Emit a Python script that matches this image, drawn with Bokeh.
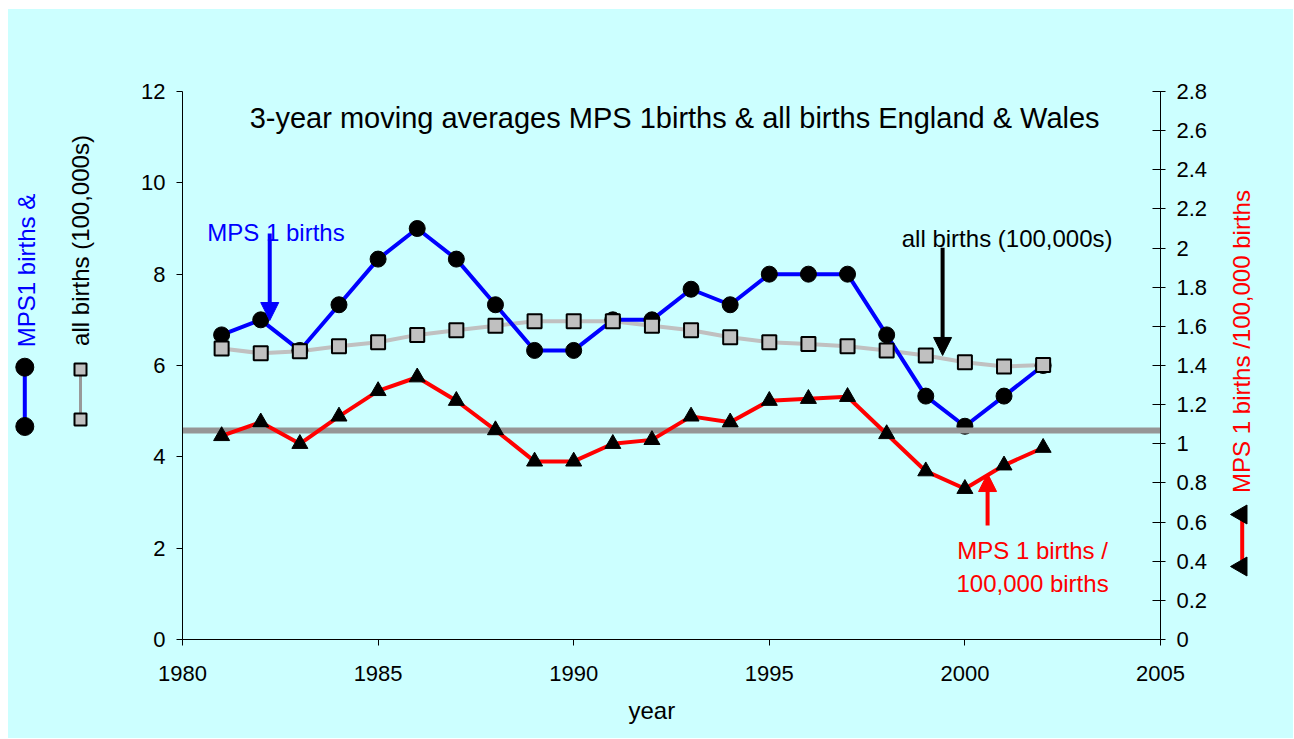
import math
from bokeh.plotting import figure
from bokeh.models import (Range1d, LinearAxis, FixedTicker, NumeralTickFormatter,
                          Label, Arrow, NormalHead, Title)
from bokeh.layouts import row
from bokeh.core.properties import value
from bokeh.embed import file_html
from bokeh.resources import INLINE

# ---------------- data ----------------
years = [1981, 1982, 1983, 1984, 1985, 1986, 1987, 1988, 1989, 1990, 1991,
         1992, 1993, 1994, 1995, 1996, 1997, 1998, 1999, 2000, 2001, 2002]
mps1_births = [6.67, 7.0, 6.33, 7.33, 8.33, 9.0, 8.33, 7.33, 6.33, 6.33, 7.0,
               7.0, 7.67, 7.33, 8.0, 8.0, 8.0, 6.67, 5.33, 4.67, 5.33, 6.0]
all_births = [6.37, 6.27, 6.31, 6.42, 6.51, 6.67, 6.77, 6.87, 6.97, 6.97, 6.97,
              6.87, 6.77, 6.62, 6.51, 6.47, 6.42, 6.33, 6.22, 6.07, 5.98, 6.01]
rate_per_100k = [1.04, 1.11, 1.00, 1.14, 1.27, 1.34, 1.22, 1.07, 0.91, 0.91, 1.00,
                 1.02, 1.14, 1.11, 1.22, 1.23, 1.24, 1.05, 0.86, 0.77, 0.89, 0.98]
mean_rate = 1.07

x_ticks = [1980, 1985, 1990, 1995, 2000, 2005]
left_ticks = [0, 2, 4, 6, 8, 10, 12]
right_ticks = [0, 0.2, 0.4, 0.6, 0.8, 1.0, 1.2, 1.4, 1.6, 1.8, 2.0, 2.2, 2.4, 2.6, 2.8]

title_text = "3-year moving averages MPS 1births & all births England & Wales"

# ---------------- styling ----------------
BG = "#CCFFFF"
FONT = "Liberation Sans"
BLUE = "#0000FF"
RED = "#FF0000"
GREY = "#C0C0C0"
H = 729
BT, BB = 82, 99          # top / bottom borders shared by all panels
FRAME_H = H - BT - BB


def side_panel(w):
    sp = figure(width=w, height=H, x_range=Range1d(0, w), y_range=Range1d(0, FRAME_H),
                x_axis_type=None, y_axis_type=None, toolbar_location=None,
                output_backend="svg", title=None, min_border_left=0, min_border_right=0,
                min_border_top=BT, min_border_bottom=BB)
    sp.background_fill_color = BG
    sp.border_fill_color = BG
    sp.outline_line_color = None
    return sp


# ---------------- main plot ----------------
p = figure(width=1082, height=H, x_range=Range1d(1980, 2005), y_range=Range1d(0, 12),
           toolbar_location=None, output_backend="svg", title=None,
           min_border_left=44, min_border_right=60, min_border_top=BT, min_border_bottom=BB)
p.background_fill_color = BG
p.border_fill_color = BG
p.outline_line_color = None
p.grid.visible = False
p.extra_y_ranges = {"rate": Range1d(0, 2.8)}
p.add_layout(LinearAxis(y_range_name="rate"), "right")

for ax in p.axis:
    ax.axis_line_color = "black"
    ax.major_tick_line_color = "black"
    ax.minor_tick_line_color = None
    ax.major_label_text_font = FONT
    ax.major_label_text_font_size = "22px"
    ax.major_label_text_color = "black"

p.xaxis.ticker = FixedTicker(ticks=x_ticks)
p.xaxis.major_tick_out = 6
p.xaxis.major_tick_in = 0
p.xaxis.major_label_standoff = 20

p.yaxis[0].ticker = FixedTicker(ticks=left_ticks)
p.yaxis[0].major_tick_out = 6
p.yaxis[0].major_tick_in = 0
p.yaxis[0].major_label_standoff = 11

p.yaxis[1].ticker = FixedTicker(ticks=right_ticks)
p.yaxis[1].formatter = NumeralTickFormatter(format="0.[0]")
p.yaxis[1].major_tick_out = 5
p.yaxis[1].major_tick_in = 8
p.yaxis[1].major_label_standoff = 11

p.add_layout(Title(text="year", align="left", offset=446, text_font=FONT,
                   text_font_size="24px", text_font_style="normal",
                   text_color="black", standoff=22), "below")

# series
p.line(years, all_births, line_color=GREY, line_width=4)
p.line(years, mps1_births, line_color=BLUE, line_width=4)
p.scatter(years, mps1_births, marker="circle", size=16, fill_color="black", line_color="black")
p.scatter(years, all_births, marker="square", size=14, fill_color=GREY,
          line_color="black", line_width=2)
p.hspan(y=[mean_rate], y_range_name="rate", line_color="#969696", line_width=6)
p.line(years, rate_per_100k, y_range_name="rate", line_color=RED, line_width=4)
p.scatter(years, rate_per_100k, y_range_name="rate", marker="triangle", size=16,
          fill_color="black", line_color="black")

# title inside plot area
p.add_layout(Label(x=1992.58, y=11.414, text=title_text, text_align="center",
                   text_baseline="alphabetic", text_font=FONT, text_font_size="29px",
                   text_color="black"))

# annotations
p.add_layout(Label(x=1982.39, y=8.918, text="MPS 1 births", text_align="center",
                   text_baseline="alphabetic", text_font=FONT, text_font_size="24px",
                   text_color=BLUE))
p.add_layout(Arrow(end=NormalHead(size=18, fill_color=BLUE, line_color=BLUE),
                   x_start=1982.23, y_start=8.89, x_end=1982.23, y_end=6.985,
                   line_color=BLUE, line_width=4))

p.add_layout(Label(x=2001.08, y=8.78, text="all births (100,000s)", text_align="center",
                   text_baseline="alphabetic", text_font=FONT, text_font_size="24px",
                   text_color="black"))
p.add_layout(Arrow(end=NormalHead(size=18, fill_color="black", line_color="black"),
                   x_start=1999.43, y_start=8.58, x_end=1999.43, y_end=6.22,
                   line_color="black", line_width=4))

p.add_layout(Label(x=2001.73, y=1.949, text="MPS 1 births /", text_align="center",
                   text_baseline="alphabetic", text_font=FONT, text_font_size="24px",
                   text_color=RED))
p.add_layout(Label(x=2001.73, y=1.226, text="100,000 births", text_align="center",
                   text_baseline="alphabetic", text_font=FONT, text_font_size="24px",
                   text_color=RED))
p.add_layout(Arrow(end=NormalHead(size=18, fill_color=RED, line_color=RED),
                   x_start=2000.58, y_start=0.583, x_end=2000.58, y_end=0.848,
                   y_range_name="rate", line_color=RED, line_width=4))

# ---------------- left panel (axis titles with keys) ----------------
lp = side_panel(130)
lp.text(x=[18], y=[369], text=["MPS1 births &"], angle=math.pi / 2,
        text_font=value(FONT), text_font_size="24px", text_color=BLUE,
        text_align="center", text_baseline="middle")
lp.line([16.3, 16.3], [272.3, 213], line_color=BLUE, line_width=4)
lp.scatter([16.3, 16.3], [272.3, 213], marker="circle", size=18,
           fill_color="black", line_color="black")
lp.text(x=[72], y=[399], text=["all births (100,000s)"], angle=math.pi / 2,
        text_font=value(FONT), text_font_size="24px", text_color="black",
        text_align="center", text_baseline="middle")
lp.line([72, 72], [270, 220], line_color="#999999", line_width=3)
lp.scatter([72, 72], [270, 220], marker="square", size=12, fill_color=GREY,
           line_color="black", line_width=2)

# ---------------- right panel ----------------
rp = side_panel(73)
rp.text(x=[21], y=[298], text=["MPS 1 births /100,000 births"], angle=math.pi / 2,
        text_font=value(FONT), text_font_size="24px", text_color=RED,
        text_align="center", text_baseline="middle")
rp.line([21.7, 21.7], [121, 79], line_color=RED, line_width=4)
rp.scatter([21, 21], [125, 73], marker="triangle", size=19, angle=math.pi / 2,
           fill_color="black", line_color="black")

layout = row(lp, p, rp, spacing=0, margin=(9, 0, 0, 8),
             styles={"background-color": BG})
open("out.html", "w").write(file_html(layout, INLINE))
